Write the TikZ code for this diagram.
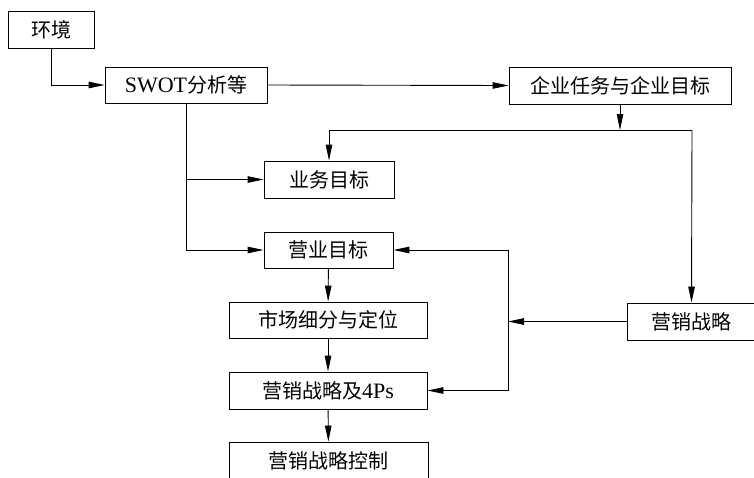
\documentclass[tikz,border=0pt]{standalone}
\usepackage{fontspec}
\setmainfont{Liberation Serif}
\newfontfamily\cjk{Noto Sans CJK SC}
\usetikzlibrary{arrows.meta}
\newcommand{\lat}[1]{{\rmfamily\fontsize{22}{24}\selectfont #1}}
\begin{document}
\begin{tikzpicture}[x=1pt,y=-1pt,
  box/.style={draw, line width=0.9pt, inner sep=0pt, font=\cjk\fontsize{20}{22}\selectfont},
  arr/.style={line width=0.9pt, -{Triangle[length=16pt,width=6.5pt]}},
  dbl/.style={line width=0.9pt, {Triangle[length=16pt,width=6.5pt]}-{Triangle[length=16pt,width=6.5pt]}}]
\useasboundingbox (0,0) rectangle (754,477);
\clip (0,0) rectangle (754,477);
\node[box, minimum width=86pt, minimum height=37pt] (env) at (51,29.5) {环境};
\node[box, minimum width=162pt, minimum height=36pt] (swot) at (186,85) {\lat{SWOT}分析等};
\node[box, minimum width=222pt, minimum height=37pt] (corp) at (620,85.5) {企业任务与企业目标};
\node[box, minimum width=130pt, minimum height=37pt] (biz) at (329,179.5) {业务目标};
\node[box, minimum width=129pt, minimum height=36pt] (ops) at (328.5,250) {营业目标};
\node[box, minimum width=198pt, minimum height=36pt] (seg) at (328,320) {市场细分与定位};
\node[box, minimum width=198pt, minimum height=37pt] (fourp) at (328,390.5) {营销战略及\lat{4Ps}};
\node[box, minimum width=199pt, minimum height=37pt] (ctrl) at (328.5,460.5) {营销战略控制};
\node[box, minimum width=129pt, minimum height=37pt] (mkt) at (691.5,321.5) {营销战略};
\coordinate (jr) at (692,130);
\coordinate (jc) at (620,130);
\coordinate (rl) at (508,250);
% connectors
\draw[arr] (env.south) |- (swot.west);
\draw[arr] (swot.east) -- (corp.west);
\draw[arr] (corp.south) -- (jc);
\draw[arr] (jr) -| (biz.north);
\draw[arr] (jr) -- (mkt.north);
\draw[arr] (swot.south) |- (ops.west);
\draw[arr] (swot.south |- biz.west) -- (biz.west);
\draw[arr] (ops) -- (seg);
\draw[arr] (seg) -- (fourp);
\draw[arr] (fourp) -- (ctrl);
\draw[dbl] (ops.east) -- (rl) -- (rl |- fourp.east) -- (fourp.east);
\draw[arr] (mkt.west) -- (mkt.west -| rl);
\end{tikzpicture}
\end{document}
